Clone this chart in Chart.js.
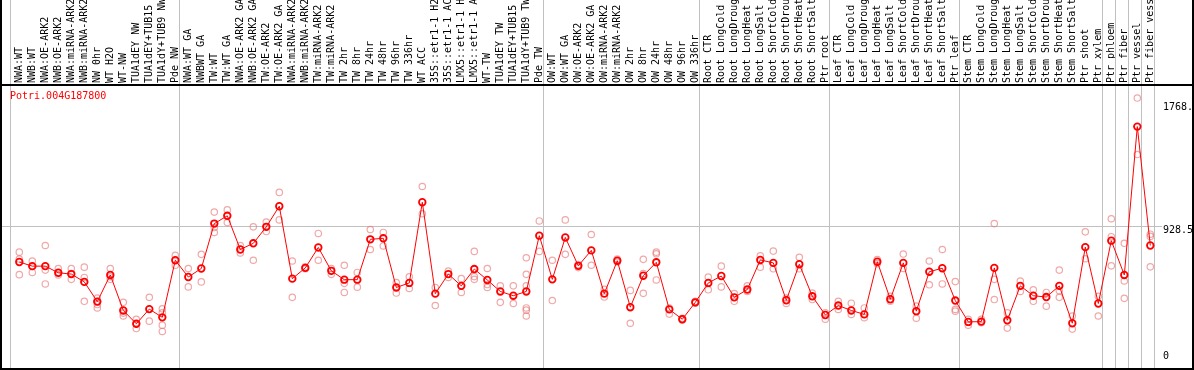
<!DOCTYPE html>
<html>
<head>
<meta charset="utf-8">
<script src="https://cdn.jsdelivr.net/npm/chart.js@4/dist/chart.umd.min.js"></script>
<style>
html,body{margin:0;padding:0;background:#fff;}
canvas{display:block;}
</style>
</head>
<body>
<canvas id="c" width="1194" height="370"></canvas>
<script>
const geneName = "Potri.004G187800";

const categories = [
"NWA:WT","NWB:WT","NWA:OE-ARK2","NWB:OE-ARK2","NWA:miRNA-ARK2","NWB:miRNA-ARK2","NW 0hr","WT H2O","WT-NW","TUA1dEY NW","TUA1dEY+TUB15 NW","TUA1dY+TUB9 NW","Pde NW",
"NWA:WT GA","NWBWT GA","TW:WT","TW:WT GA","NWA:OE-ARK2 GA","NWB:OE-ARK2 GA","TW:OE-ARK2","TW:OE-ARK2 GA","NWA:miRNA-ARK2 GA","NWB:miRNA-ARK2 GA","TW:miRNA-ARK2","TW:miRNA-ARK2 GA","TW 2hr","TW 8hr","TW 24hr","TW 48hr","TW 96hr","TW 336hr","WT ACC","35S::etr1-1 H2O","35S::etr1-1 ACC","LMX5::etr1-1 H2O","LMX5::etr1-1 ACC","WT-TW","TUA1dEY TW","TUA1dEY+TUB15 TW","TUA1dY+TUB9 TW","Pde TW",
"OW:WT","OW:WT GA","OW:OE-ARK2","OW:OE-ARK2 GA","OW:miRNA-ARK2","OW:miRNA-ARK2 GA","OW 2hr","OW 8hr","OW 24hr","OW 48hr","OW 96hr","OW 336hr",
"Root CTR","Root LongCold","Root LongDrought","Root LongHeat","Root LongSalt","Root ShortCold","Root ShortDrought","Root ShortHeat","Root ShortSalt","Ptr root",
"Leaf CTR","Leaf LongCold","Leaf LongDrought","Leaf LongHeat","Leaf LongSalt","Leaf ShortCold","Leaf ShortDrought","Leaf ShortHeat","Leaf ShortSalt","Ptr leaf",
"Stem CTR","Stem LongCold","Stem LongDrought","Stem LongHeat","Stem LongSalt","Stem ShortCold","Stem ShortDrought","Stem ShortHeat","Stem ShortSalt","Ptr shoot","Ptr xylem",
"Ptr phloem","Ptr fiber","Ptr vessel","Ptr fiber vessel"
];

// first category index of each group (separator lines), plus the end
const groupStarts = [0, 13, 41, 53, 63, 73, 84, 85, 86, 87, 88];

const means = [
681,653,653,608,599,546,412,593,352,261,361,305,693,
579,637,942,995,766,808,920,1060,568,641,780,621,561,561,835,842,508,539,1087,466,599,519,633,559,481,452,481,860,
563,848,655,760,466,690,374,588,679,359,292,407,
539,586,441,494,695,675,421,666,448,321,
385,352,325,683,428,675,347,615,639,419,
274,276,641,285,519,452,443,519,265,782,399,
826,593,1601,793
];

const replicates = [
[748,701,595],[688,651,610],[793,626,532],[637,608,593],[637,603,563],[646,576,414],[436,412,392,369],[637,581,563],[407,334,314],[292,261,229],[441,279],[363,336,252,209],[726,659],
[637,512],[733,546],[1020,915,882],[1035,949],[793,743],[920,693],[953,888],[1154,967],[688,441],[648,635],[875,693],[637,597],[659,536,474],[610,510],[902,766],[882,790],[541,470],[581,501],[1194,1009],[508,385],[619,576],[568,474],[753,582,563],[637,528,508],[519,407],[519,399],[710,597,519,369,354,314],[960,753],
[693,419],[967,733],[663,643],[868,659],[496,443],[701,681],[488,265],[699,603,468],[748,737,559],[369,327],[299,287],[414,401],
[579,492],[653,512],[466,414],[519,481],[723,646],[755,635],[436,399],[713,635],[470,426],[336,292],
[414,359],[401,325],[369,303],[697,670],[448,414],[735,637],[381,299],[688,526],[766,532],[548,359,347],
[292,252],[292,269],[942,563,426],[336,232],[552,481],[492,414],[474,381],[626,486,441],[314,225],[886,703],[448,314],
[975,853,655],[808,552,434],[1795,1411],[870,855,648]
];

const yTicks = [0, 928.5, 1768];
const yTickLabels = ["0", "928.5", "1768."];
const gridValues = [928.5];

const repPoints = [];
replicates.forEach((arr, i) => arr.forEach(v => repPoints.push({x: categories[i], y: v})));

const FONT = '"DejaVu Sans Mono", "Liberation Mono", monospace';
Chart.defaults.font.family = FONT;
Chart.defaults.font.size = 10;
Chart.defaults.color = '#000';

const decor = {
  id: 'decor',
  beforeDatasetsDraw(chart) {
    const {ctx, scales: {x, y}} = chart;
    ctx.save();
    ctx.strokeStyle = '#c0c0c0';
    ctx.lineWidth = 1;
    ctx.beginPath();
    groupStarts.forEach(i => {
      const px = Math.round(x.getPixelForValue(i - 0.7)) + 0.5;
      ctx.moveTo(px, 0);
      ctx.lineTo(px, 369);
    });
    gridValues.forEach(v => {
      const py = Math.round(y.getPixelForValue(v)) + 0.5;
      ctx.moveTo(2, py);
      ctx.lineTo(1162, py);
    });
    ctx.stroke();
    ctx.restore();
  },
  afterDraw(chart) {
    const {ctx, scales: {y}, chartArea} = chart;
    ctx.save();
    ctx.strokeStyle = '#000';
    ctx.lineWidth = 2;
    ctx.beginPath();
    ctx.moveTo(1, 0); ctx.lineTo(1, 369);
    ctx.lineTo(1193, 369); ctx.lineTo(1193, 0);
    ctx.moveTo(0, 85); ctx.lineTo(1194, 85);
    ctx.stroke();
    ctx.fillStyle = '#ff0000';
    ctx.font = '10px ' + FONT;
    ctx.textAlign = 'left';
    ctx.textBaseline = 'middle';
    ctx.fillText(geneName, 10, 96.5);
    ctx.fillStyle = '#000';
    ctx.textBaseline = 'top';
    yTicks.forEach((v, k) => {
      let py = y.getPixelForValue(v);
      if (py + 12 > chartArea.bottom) py = chartArea.bottom - 13;
      ctx.fillText(yTickLabels[k], 1163, py);
    });
    ctx.restore();
  }
};

new Chart(document.getElementById('c'), {
  type: 'line',
  data: {
    labels: categories,
    datasets: [
      {
        type: 'line',
        data: means,
        borderColor: '#ff0000',
        borderWidth: 1,
        tension: 0,
        fill: false,
        pointRadius: 3.3,
        pointBorderWidth: 1.8,
        pointBorderColor: '#ff0000',
        pointBackgroundColor: 'rgba(0,0,0,0)'
      },
      {
        type: 'line',
        data: repPoints,
        showLine: false,
        pointRadius: 3.2,
        pointBorderWidth: 1.2,
        pointBorderColor: 'rgba(232,110,110,0.6)',
        pointBackgroundColor: 'rgba(0,0,0,0)'
      }
    ]
  },
  options: {
    responsive: false,
    animation: false,
    devicePixelRatio: 1,
    layout: {padding: {left: 19.3, right: 43.7, top: 0, bottom: 1}},
    plugins: {legend: {display: false}, tooltip: {enabled: false}},
    scales: {
      x: {
        type: 'category',
        position: 'top',
        offset: false,
        grid: {display: false, drawTicks: false},
        border: {display: false},
        ticks: {
          autoSkip: false,
          minRotation: 90,
          maxRotation: 90,
          padding: 2,
          labelOffset: 12,
          color: '#000',
          font: {family: FONT, size: 10}
        },
        afterFit(s) { s.height = 85; }
      },
      y: {
        display: false,
        min: -13.36,
        max: 1883.7
      }
    }
  },
  plugins: [decor]
});
</script>
</body>
</html>
